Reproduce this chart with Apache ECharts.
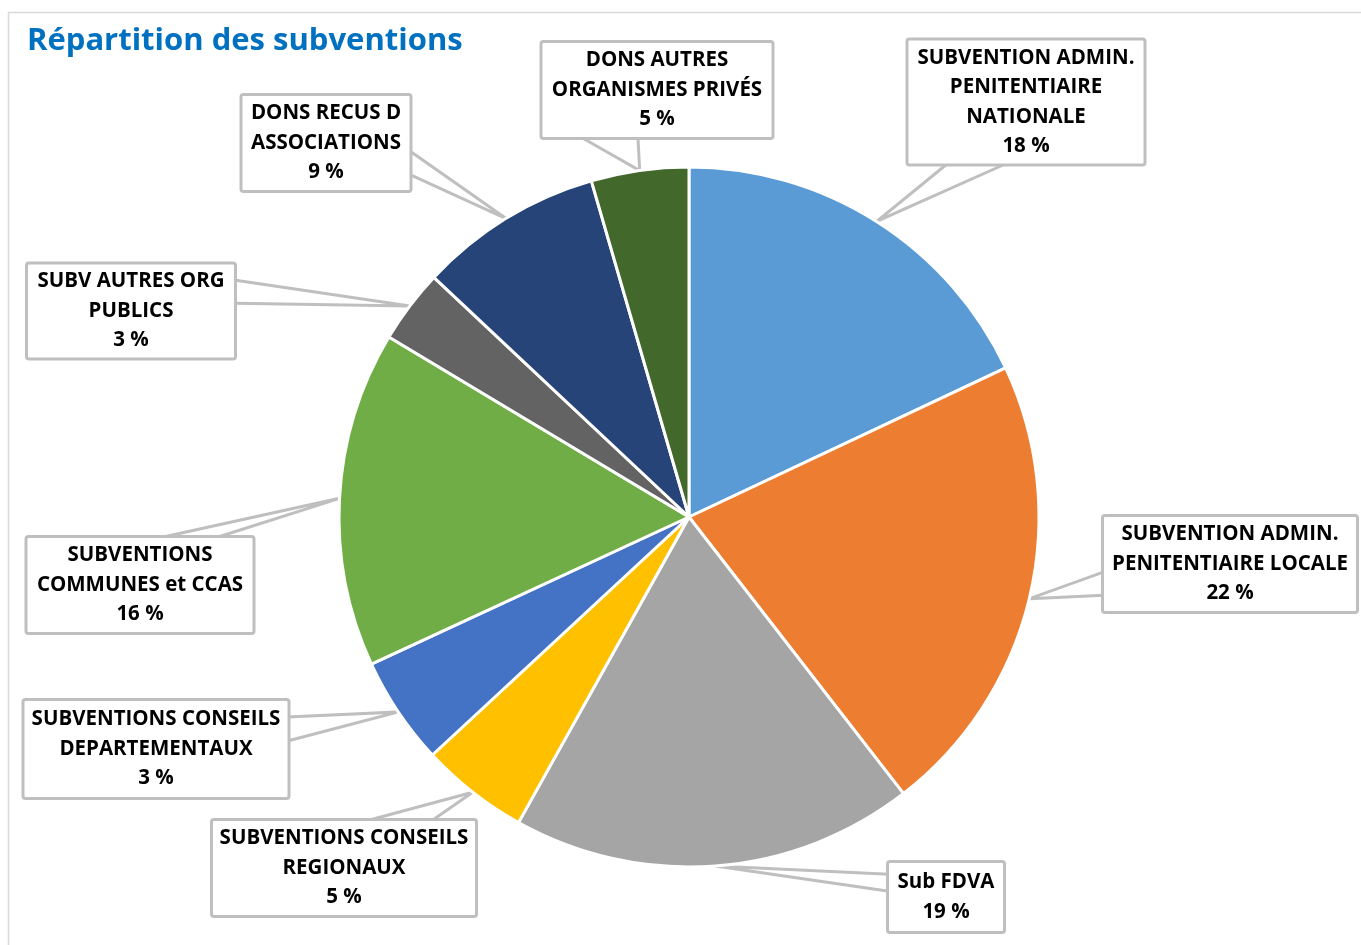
<!DOCTYPE html>
<html>
<head>
<meta charset="utf-8">
<script src="https://cdn.jsdelivr.net/npm/echarts@6/dist/echarts.min.js"></script>
<style>
html,body{margin:0;padding:0;background:#ffffff;}
#chart{width:1361px;height:945px;}
</style>
</head>
<body>
<div id="chart"></div>
<script>
// ---- data ----
const titleText = 'Répartition des subventions';
const categories = [
  'SUBVENTION ADMIN.\nPENITENTIAIRE\nNATIONALE',
  'SUBVENTION ADMIN.\nPENITENTIAIRE LOCALE',
  'Sub FDVA',
  'SUBVENTIONS CONSEILS\nREGIONAUX',
  'SUBVENTIONS CONSEILS\nDEPARTEMENTAUX',
  'SUBVENTIONS\nCOMMUNES et CCAS',
  'SUBV AUTRES ORG\nPUBLICS',
  'DONS RECUS D\nASSOCIATIONS',
  'DONS AUTRES\nORGANISMES PRIVÉS'
];
// slice sizes (percent)
const sliceValues = [18.0, 21.5, 18.6, 5.0, 5.0, 15.5, 3.4, 8.5, 4.5];
// percentages printed in the callouts
const percentLabels = [18, 22, 19, 5, 3, 16, 3, 9, 5];

// ---- styles / layout ----
const colors = ['#5B9BD5', '#ED7D31', '#A5A5A5', '#FFC000', '#4472C4', '#70AD47', '#636363', '#264478', '#43682B'];
// callout boxes: centre x, centre y, width, height
const calloutBoxes = [
  [1026, 102, 235, 123],
  [1230, 564, 252, 94],
  [946, 897, 114, 68],
  [344, 868, 262, 94],
  [156, 749, 263, 96],
  [140, 585, 225, 94],
  [131, 311, 206, 93],
  [326, 143, 167, 94],
  [657, 90, 229, 94]
];
const CX = 689, CY = 517, R = 350;
const LH = 29.4;
const FONT = '"Open Sans", Lato, sans-serif';

const total = sliceValues.reduce((a, b) => a + b, 0);
function tipFor(i) {
  let before = 0;
  for (let k = 0; k < i; k++) before += sliceValues[k];
  const mid = (before + sliceValues[i] / 2) / total * Math.PI * 2;
  return [CX + R * Math.sin(mid), CY - R * Math.cos(mid)];
}

const seriesData = categories.map((name, i) => {
  const b = calloutBoxes[i];
  const nLines = name.split('\n').length + 1;
  const pv = Math.max(0, (b[3] - nLines * LH) / 2);
  return {
    name: name,
    value: sliceValues[i],
    itemStyle: { color: colors[i] },
    label: { width: b[2] - 8, padding: [pv + 1.5, 4, Math.max(0, pv - 1.5), 4] }
  };
});

const chart = echarts.init(document.getElementById('chart'), null, { renderer: 'canvas' });
chart.setOption({
  animation: false,
  backgroundColor: '#ffffff',
  title: {
    text: titleText,
    left: 27,
    top: 26,
    padding: 0,
    textStyle: { fontFamily: FONT, fontWeight: 'bold', fontSize: 31, color: '#0070C0' }
  },
  graphic: [{
    type: 'rect',
    silent: true,
    shape: { x: 8.5, y: 12.5, width: 1400, height: 1000 },
    style: { fill: 'none', stroke: '#D9D9D9', lineWidth: 1.5 }
  }],
  series: [{
    type: 'pie',
    center: [CX, CY],
    radius: R,
    startAngle: 90,
    clockwise: true,
    avoidLabelOverlap: false,
    silent: true,
    emphasis: { disabled: true },
    itemStyle: { borderColor: '#ffffff', borderWidth: 3 },
    label: {
      show: true,
      position: 'outside',
      formatter: p => categories[p.dataIndex] + '\n' + percentLabels[p.dataIndex] + ' %',
      fontFamily: FONT,
      fontWeight: 'bold',
      fontSize: 20.5,
      lineHeight: LH,
      color: '#000000',
      align: 'center',
      overflow: 'none',
      backgroundColor: '#ffffff',
      borderColor: '#BFBFBF',
      borderWidth: 3,
      borderRadius: 1
    },
    labelLine: {
      show: true,
      length: 15,
      length2: 15,
      smooth: false,
      lineStyle: { color: '#BFBFBF', width: 3, join: 'miter' }
    },
    labelLayout: function (p) {
      const i = p.dataIndex;
      const b = calloutBoxes[i];
      const bx = b[0], by = b[1], w = b[2], h = b[3];
      const l = bx - w / 2, t = by - h / 2;
      const tip = (p.labelLinePoints && p.labelLinePoints[0]) ? p.labelLinePoints[0] : tipFor(i);
      const dx = tip[0] - bx, dy = tip[1] - by;
      const dq = dx * h / w;
      let pts;
      if (Math.abs(dy) > Math.abs(dq)) {
        const x1 = l + w * (dx > 0 ? 7 : 2) / 12, x2 = l + w * (dx > 0 ? 10 : 5) / 12;
        const ye = dy > 0 ? t + h : t;
        pts = [[x1, ye], [tip[0], tip[1]], [x2, ye]];
      } else {
        const y1 = t + h * (dy > 0 ? 7 : 2) / 12, y2 = t + h * (dy > 0 ? 10 : 5) / 12;
        const xe = dx > 0 ? l + w : l;
        pts = [[xe, y1], [tip[0], tip[1]], [xe, y2]];
      }
      return { x: bx, y: by, align: 'center', verticalAlign: 'middle', labelLinePoints: pts };
    },
    data: seriesData
  }]
});
</script>
</body>
</html>
